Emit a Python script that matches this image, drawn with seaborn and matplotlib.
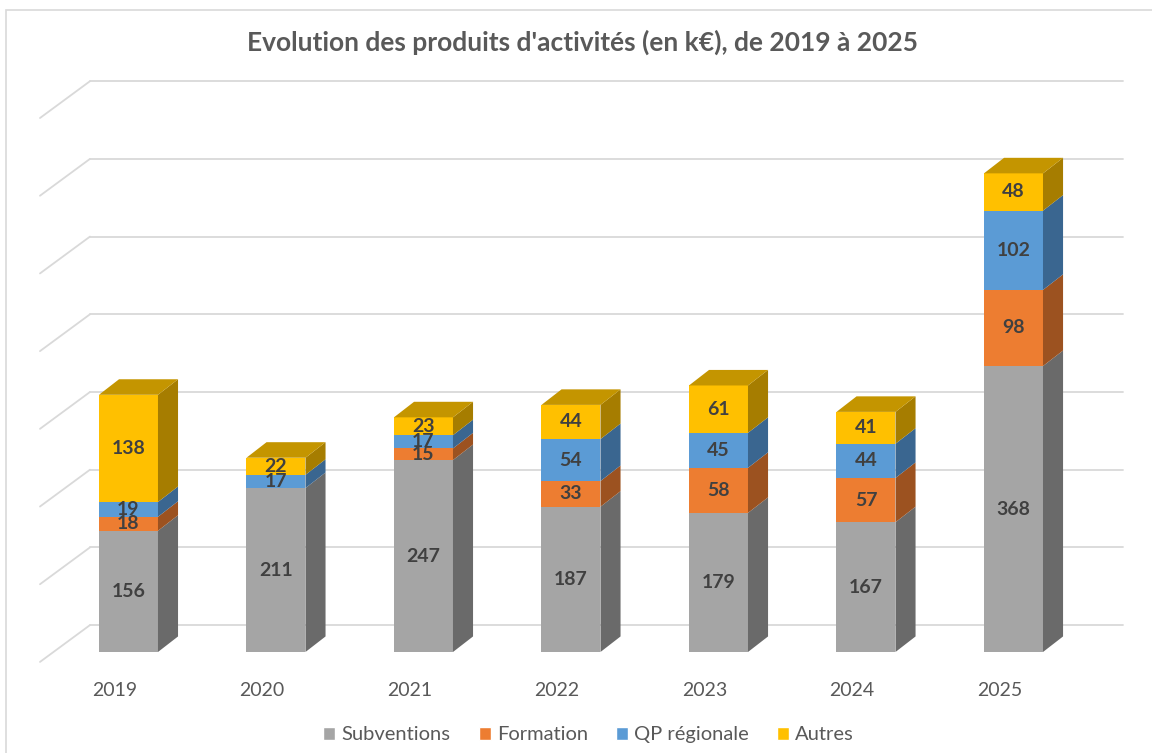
import matplotlib
matplotlib.use("Agg")
import matplotlib.pyplot as plt
from matplotlib.patches import Polygon, Patch, Rectangle
import seaborn as sns
import pandas as pd
import numpy as np

# Data (k€)
years = ["2019", "2020", "2021", "2022", "2023", "2024", "2025"]
subventions = [156, 211, 247, 187, 179, 167, 368]
formation = [18, 0, 15, 33, 58, 57, 98]
qp_regionale = [19, 17, 17, 54, 45, 44, 102]
autres = [138, 22, 23, 44, 61, 41, 48]

series_names = ["Subventions", "Formation", "QP régionale", "Autres"]
series_values = [subventions, formation, qp_regionale, autres]
front_colors = ["#A5A5A5", "#ED7D31", "#5B9BD5", "#FFC000"]
side_colors = ["#6A6A6A", "#9C5220", "#3A6690", "#A67D00"]
top_color = "#C49500"

# 3D look (in data units)
bar_w = 0.4
dx, dy = 0.136, 20
grid_vals = np.arange(0, 800, 100)

sns.set_theme(style="white")
plt.rcParams["font.family"] = ["Lato", "DejaVu Sans"]

fig = plt.figure(figsize=(11.52, 7.53), dpi=100)
ax = fig.add_axes([0, 0, 1, 1])

# back wall + side wall gridlines
for g in grid_vals:
    ax.plot([-0.261, 6.742], [g + 34.6, g + 34.6], color="#D9D9D9", lw=1.3, zorder=0)
    ax.plot([-0.6, -0.261], [g - 12.8, g + 34.6], color="#D9D9D9", lw=1.3, zorder=0)

bottom = np.zeros(len(years))
for k, (name, vals) in enumerate(zip(series_names, series_values)):
    df = pd.DataFrame({"annee": years, "valeur": vals})
    sns.barplot(data=df, x="annee", y="valeur", color=front_colors[k], saturation=1,
                width=bar_w, bottom=bottom, linewidth=0, errorbar=None, ax=ax, zorder=3)
    for i, v in enumerate(vals):
        b, t = bottom[i], bottom[i] + v
        x1 = i + bar_w / 2
        if v > 0:
            ax.add_patch(Polygon([(x1, b), (x1 + dx, b + dy), (x1 + dx, t + dy), (x1, t)],
                                 closed=True, facecolor=side_colors[k], lw=0, zorder=3))
            ax.text(i, b + v / 2, str(v), ha="center", va="center", fontsize=14,
                    fontweight="bold", color="#404040", zorder=5)
    bottom = bottom + np.array(vals)

# top faces
for i, tot in enumerate(bottom):
    x0, x1 = i - bar_w / 2, i + bar_w / 2
    ax.add_patch(Polygon([(x0, tot), (x0 + dx, tot + dy), (x1 + dx, tot + dy), (x1, tot)],
                         closed=True, facecolor=top_color, lw=0, zorder=3))

# category labels
for i, y in enumerate(years):
    ax.text(i - 0.095, -49, y, ha="center", va="center", fontsize=14, color="#595959")

ax.set_xlim(-0.871, 6.939)
ax.set_ylim(-130.0, 839.1)
ax.set_axis_off()

fig.text(0.506, 0.944, "Evolution des produits d'activités (en k€), de 2019 à 2025",
         ha="center", va="center", fontsize=19, fontweight="bold", color="#595959")

handles = [Patch(facecolor=c, label=n) for c, n in zip(front_colors, series_names)]
fig.legend(handles=handles, loc="center", bbox_to_anchor=(0.511, 0.024), ncol=4,
           frameon=False, fontsize=14.5, handlelength=0.6, handleheight=0.6,
           handletextpad=0.3, columnspacing=1.4, labelcolor="#595959")

fig.patches.append(Rectangle((6 / 1152, -0.1), 1.2, 1.1 - 10 / 753, transform=fig.transFigure,
                             fill=False, edgecolor="#D9D9D9", lw=1.2))

fig.savefig("out.png", dpi=100)
